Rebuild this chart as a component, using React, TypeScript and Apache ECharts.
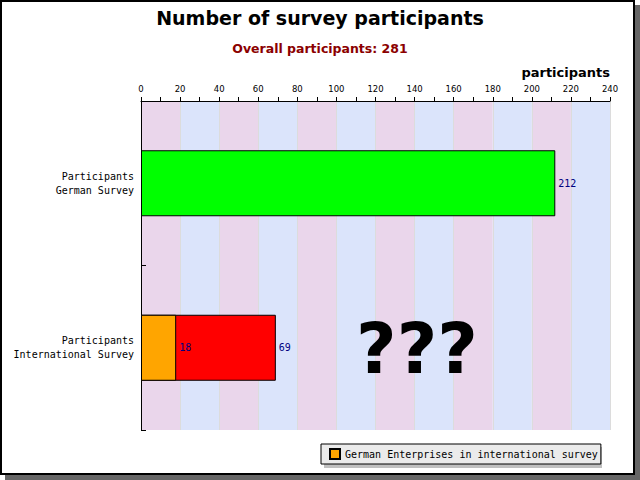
import React, { useEffect, useRef } from "react";
import * as echarts from "echarts";

const categories = ["Participants\nGerman Survey", "Participants\nInternational Survey"];
const totalValues = [212, 69];
const totalColors = ["#00ff00", "#ff0000"];
const germanEnterpriseValues: (number | string)[] = ["-", 18];
const titleText = "Number of survey participants";
const subtitleText = "Overall participants: 281";
const legendName = "German Enterprises in international survey";
const axisName = "participants";
const overlayText = "???";

export default function App() {
  const ref = useRef<HTMLDivElement>(null);
  useEffect(() => {
    if (!ref.current) return;
    const chart = echarts.init(ref.current, undefined, { renderer: "svg" });
    const labelStyle = {
      show: true,
      position: "right" as const,
      distance: 3,
      color: "#000080",
      fontFamily: "DejaVu Sans Mono",
      fontSize: 10,
    };
    chart.setOption({
      animation: false,
      backgroundColor: "#ffffff",
      title: [
        {
          text: titleText,
          left: "center",
          top: 8,
          padding: 0,
          textStyle: { fontFamily: "DejaVu Sans", fontWeight: "bold", fontSize: 19, color: "#000" },
        },
        {
          text: subtitleText,
          left: "center",
          top: 42,
          padding: 0,
          textStyle: { fontFamily: "DejaVu Sans", fontWeight: "bold", fontSize: 12.5, color: "#8b0000" },
        },
      ],
      grid: { left: 141, right: 30, top: 101, bottom: 50, containLabel: false },
      legend: {
        data: [legendName],
        left: 321,
        top: 444,
        orient: "horizontal",
        padding: [4, 3, 4, 8],
        itemWidth: 10,
        itemHeight: 10,
        icon: "rect",
        backgroundColor: "#ebebeb",
        borderColor: "#000",
        borderWidth: 1,
        borderRadius: 0,
        textStyle: { fontFamily: "DejaVu Sans Mono", fontSize: 10, color: "#000" },
      },
      xAxis: {
        type: "value",
        position: "top",
        min: 0,
        max: 240,
        interval: 20,
        name: axisName,
        nameLocation: "end",
        nameGap: 0,
        nameTextStyle: {
          fontFamily: "DejaVu Sans",
          fontWeight: "bold",
          fontSize: 13,
          color: "#000",
          align: "right",
          verticalAlign: "bottom",
          padding: [0, 0, 22, 0],
        },
        axisLine: { show: true, lineStyle: { color: "#000", width: 1 } },
        axisTick: { show: true, length: 4, lineStyle: { color: "#000" } },
        minorTick: { show: true, splitNumber: 2, length: 4, lineStyle: { color: "#000" } },
        axisLabel: { fontFamily: "DejaVu Sans", fontSize: 8.5, color: "#000", margin: 8 },
        splitLine: { show: true, lineStyle: { color: "#dcdcdc", width: 1 } },
        splitArea: { show: true, areaStyle: { color: ["#ead6eb", "#dbe4fb"] } },
      },
      yAxis: {
        type: "category",
        data: categories,
        inverse: true,
        axisLine: { show: true, lineStyle: { color: "#000", width: 1 } },
        axisTick: { show: true, inside: true, length: 5, lineStyle: { color: "#000" } },
        axisLabel: {
          fontFamily: "DejaVu Sans Mono",
          fontSize: 10,
          color: "#000",
          margin: 7,
          lineHeight: 14,
          align: "right",
        },
        splitLine: { show: false },
      },
      series: [
        {
          name: "Participants",
          type: "bar",
          barWidth: 66,
          data: totalValues.map((v, i) => ({ value: v, itemStyle: { color: totalColors[i] } })),
          itemStyle: { borderColor: "#000", borderWidth: 1 },
          label: labelStyle,
        },
        {
          name: legendName,
          type: "bar",
          barWidth: 66,
          barGap: "-100%",
          data: germanEnterpriseValues,
          itemStyle: { color: "#ffa500", borderColor: "#000", borderWidth: 1 },
          label: labelStyle,
        },
      ],
      graphic: {
        elements: [
          {
            type: "rect",
            z: -20,
            silent: true,
            shape: { x: 5, y: 5, width: 635, height: 475 },
            style: { fill: "#666666" },
          },
          {
            type: "rect",
            z: -15,
            silent: true,
            shape: { x: 1, y: 1, width: 633, height: 473 },
            style: { fill: "#ffffff", stroke: "#000", lineWidth: 2 },
          },
          {
            type: "rect",
            z: -5,
            silent: true,
            shape: { x: 324, y: 447, width: 278, height: 21 },
            style: { fill: "#c0c0c0" },
          },
          {
            type: "text",
            z: 50,
            silent: true,
            x: 417,
            y: 349,
            style: {
              text: overlayText,
              fontFamily: "DejaVu Sans",
              fontWeight: "bold",
              fontSize: 70,
              fill: "#000",
              textAlign: "center",
              textVerticalAlign: "middle",
            },
          },
        ],
      },
    });
    return () => chart.dispose();
  }, []);
  return (
    <div
      ref={ref}
      style={{ position: "fixed", left: 0, top: 0, width: 640, height: 480, background: "#fff" }}
    />
  );
}
